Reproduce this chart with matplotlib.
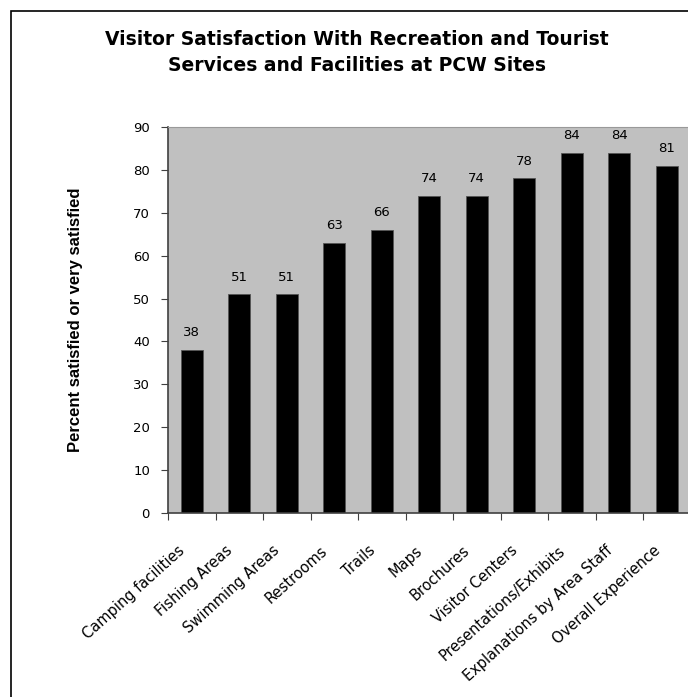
import numpy as np
import matplotlib.pyplot as plt
from matplotlib.patches import Rectangle

categories = ['Camping facilities', 'Fishing Areas', 'Swimming Areas', 'Restrooms',
              'Trails', 'Maps', 'Brochures', 'Visitor Centers',
              'Presentations/Exhibits', 'Explanations by Area Staff', 'Overall Experience']
values = [38, 51, 51, 63, 66, 74, 74, 78, 84, 84, 81]
yticks = [0, 10, 20, 30, 40, 50, 60, 70, 80, 90]

plt.rcParams['font.family'] = ['Liberation Sans', 'DejaVu Sans']

fig = plt.figure(figsize=(6.88, 6.97), dpi=100)
# frame around the whole picture (runs off the right and bottom edges)
fig.patches.append(Rectangle((11 / 688, -0.05), 1.2, 1 - 11 / 697 + 0.05,
                             transform=fig.transFigure, fill=False,
                             edgecolor='black', linewidth=1.2))

ax = fig.add_axes([168 / 688, 1 - 513 / 697, 522.5 / 688, 386 / 697])
ax.set_facecolor('#c0c0c0')

x = np.arange(len(categories))
ax.bar(x, values, width=0.46, color='black', edgecolor='#555555', linewidth=0.6)
for xi, v in zip(x, values):
    ax.text(xi, v + 3.2, str(v), ha='center', va='baseline', fontsize=9.5,
            family='DejaVu Sans')

ax.set_xlim(-0.5, len(categories) - 0.5)
ax.set_ylim(0, 90)
ax.set_yticks(yticks)
ax.set_xticks(np.arange(len(categories) + 1) - 0.5)
ax.set_xticklabels([])
ax.tick_params(axis='x', length=5, color='#404040')
ax.tick_params(axis='y', length=5, color='#404040', pad=8)
for lab in ax.get_yticklabels():
    lab.set_fontsize(9.5)
    lab.set_family('DejaVu Sans')

# category labels, slanted under the axis
for xi, name in zip(x, categories):
    ax.annotate(name, xy=(xi, 0), xycoords='data', xytext=(-14, -30),
                textcoords='offset pixels', rotation=42, ha='right', va='top',
                rotation_mode='anchor', fontsize=10.5, family='DejaVu Sans',
                annotation_clip=False)

for s in ['top', 'right']:
    ax.spines[s].set_color('#999999')
    ax.spines[s].set_linewidth(0.8)
for s in ['left', 'bottom']:
    ax.spines[s].set_color('#404040')
    ax.spines[s].set_linewidth(1.2)

ax.set_ylabel('Percent satisfied or very satisfied', fontsize=12, fontweight='bold')
ax.yaxis.set_label_coords(-0.163, 0.5)

fig.text(357 / 688, 1 - 45 / 697, 'Visitor Satisfaction With Recreation and Tourist',
         ha='center', va='baseline', fontsize=13.5, fontweight='bold', family='DejaVu Sans')
fig.text(357 / 688, 1 - 71 / 697, 'Services and Facilities at PCW Sites',
         ha='center', va='baseline', fontsize=13.5, fontweight='bold', family='DejaVu Sans')

fig.savefig('out.png', dpi=100)
